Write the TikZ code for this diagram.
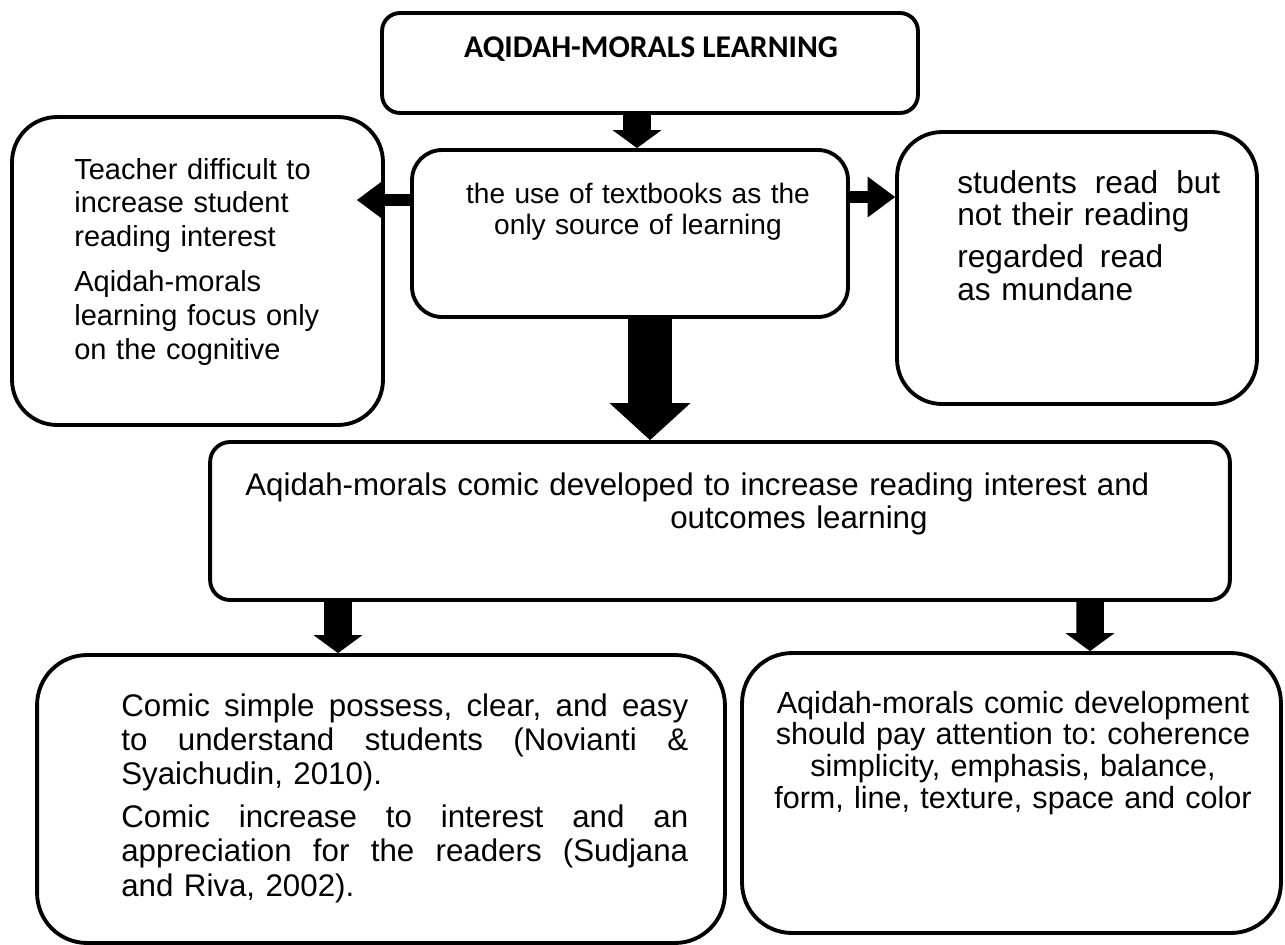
\documentclass[tikz,border=0pt]{standalone}
\usepackage{fontspec}
\setmainfont{Liberation Sans}
\newfontfamily\titlefont{Carlito}
\usetikzlibrary{arrows.meta, calc}
\tikzstyle{box} = [rectangle, draw=black, line width=2.2pt, inner sep=0pt]
\tikzstyle{txt} = [inner sep=0pt, anchor=base west, align=left]
\tikzstyle{downarrow} = [line width=0.55cm, -{Triangle[width=0.98cm, length=0.36cm, line width=0pt]}]
\tikzstyle{bigarrow} = [line width=0.88cm, -{Triangle[width=1.62cm, length=0.74cm, line width=0pt]}]
\tikzstyle{sidearrow} = [line width=0.24cm, -{Triangle[width=0.82cm, length=0.55cm, line width=0pt]}]
\frenchspacing

\begin{document}
\begin{tikzpicture}[x=0.02cm, y=-0.02cm]
\useasboundingbox (0,0) rectangle (1285,944);
% boxes
\node (top) [box, rounded corners=0.36cm, minimum width=10.72cm, minimum height=2cm] at (650,63) {};
\node (left) [box, rounded corners=0.9cm, minimum width=7.42cm, minimum height=6.16cm] at (197.5,271) {};
\node (mid) [box, rounded corners=0.6cm, minimum width=8.72cm, minimum height=3.34cm] at (630,233.5) {};
\node (right) [box, rounded corners=0.9cm, minimum width=7.2cm, minimum height=5.44cm] at (1077,268) {};
\node (wide) [box, rounded corners=0.4cm, minimum width=20.4cm, minimum height=3.16cm] at (720,521) {};
\node (bl) [box, rounded corners=1cm, minimum width=13.76cm, minimum height=5.76cm] at (381,799) {};
\node (br) [box, rounded corners=1cm, minimum width=10.78cm, minimum height=5.6cm] at (1011.5,793) {};
% texts
\node (title) [anchor=base, inner sep=0pt, font=\titlefont\fontsize{18}{20}\selectfont\bfseries] at (651,57) {AQIDAH-MORALS LEARNING};
\node (lefttxt) [txt, text width=6.5cm, font=\fontsize{16.5}{19.3}\selectfont] at (74,179)
  {Teacher difficult to\\increase student\\reading interest\\[6pt]Aqidah-morals\\learning focus only\\on the cognitive};
\node (midtxt) [txt, anchor=base, align=center, text width=8cm, font=\fontsize{16}{17.8}\selectfont] at (638,203)
  {the use of textbooks as the\\only source of learning};
\node (righttxt) [txt, text width=6cm, font=\fontsize{18}{18.3}\selectfont] at (957,193)
  {\makebox[5.26cm][l]{students \hfill read \hfill but}\\not their reading\\[6pt]\makebox[4.12cm][l]{regarded \hfill read}\\as mundane};
\node (widetxt) [txt, text width=20cm, font=\fontsize{17.8}{18.8}\selectfont] at (245,495)
  {Aqidah-morals comic developed to increase reading interest and\\\hspace*{8.5cm}outcomes learning};
\node (bltxt) [txt, text width=12cm, font=\fontsize{17.8}{19.6}\selectfont] at (121,716)
  {\makebox[11.34cm][l]{Comic \hfill simple \hfill possess, \hfill clear, \hfill and \hfill easy}\\
   \makebox[11.34cm][l]{to \hfill understand \hfill students \hfill (Novianti \hfill \&}\\
   Syaichudin, 2010).\\[4.5pt]
   \makebox[11.34cm][l]{Comic \hfill increase \hfill to \hfill interest \hfill and \hfill an}\\
   \makebox[11.34cm][l]{appreciation \hfill for \hfill the \hfill readers \hfill (Sudjana}\\
   and Riva, 2002).};
\node (brtxt) [txt, anchor=base, align=center, text width=10.5cm, font=\fontsize{17.4}{18.2}\selectfont] at (1013,713)
  {Aqidah-morals comic development\\should pay attention to: coherence\\simplicity, emphasis, balance,\\form, line, texture, space and color};
% arrows
\draw [downarrow] ($(top.south)+(-13,0)$) -- ($(mid.north)+(7,0)$);
\draw [sidearrow] ($(mid.west)+(0,-33.5)$) -- ($(left.east)+(-28,-71)$);
\draw [sidearrow] ($(mid.east)+(0,-36.5)$) -- ($(right.west)+(0,-71)$);
\draw [bigarrow] ($(mid.south)+(20,0)$) -- ($(wide.north)+(-70,0)$);
\draw [downarrow] ($(wide.south)+(-382,0)$) -- ($(bl.north)+(-43,0)$);
\draw [downarrow] ($(wide.south)+(370,0)$) -- ($(br.north)+(78.5,0)$);
\end{tikzpicture}
\end{document}
